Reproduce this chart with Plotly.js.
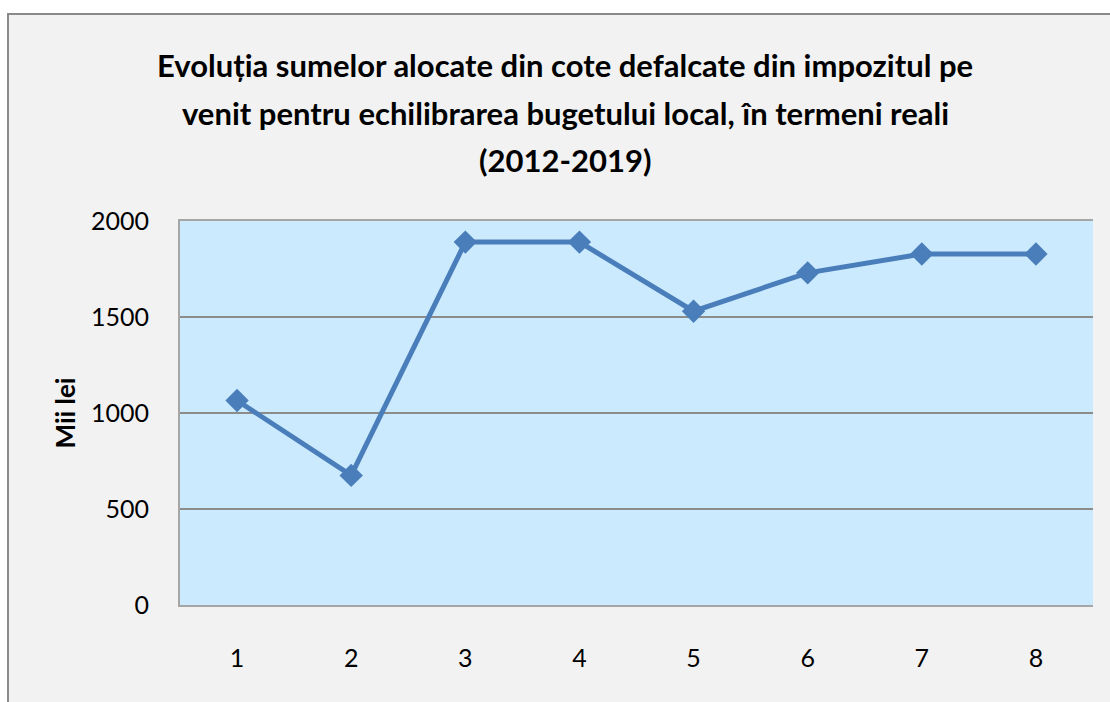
<!DOCTYPE html>
<html>
<head>
<meta charset="utf-8">
<script src="https://cdn.plot.ly/plotly-3.0.1.min.js"></script>
<style>
  html, body { margin: 0; padding: 0; background: #ffffff; width: 1110px; height: 702px; overflow: hidden; }
  #frame { position: absolute; left: 7px; top: 13px; width: 1101px; height: 687px;
           border-left: 2px solid #8a8a8a; border-top: 2px solid #8a8a8a; background: #f2f2f2; }
  #chart { width: 1101px; height: 687px; }
</style>
</head>
<body>
<div id="frame"><div id="chart"></div></div>
<script>
const categories = ["1", "2", "3", "4", "5", "6", "7", "8"];
const values = [1065, 675, 1890, 1890, 1530, 1730, 1828, 1828];
const yTicks = [0, 500, 1000, 1500, 2000];
const titleLines = [
  "Evoluția sumelor alocate din cote defalcate din impozitul pe",
  "venit pentru echilibrarea bugetului local, în termeni reali",
  "(2012-2019)"
];
const yTitle = "Mii lei";

const FONT = "Lato, 'Open Sans', sans-serif";

const trace = {
  type: "scatter",
  mode: "lines+markers",
  x: categories,
  y: values,
  line: { color: "#4a7ebb", width: 5 },
  marker: { symbol: "diamond", size: 18, color: "#4a7ebb" },
  hoverinfo: "x+y"
};

const titleY = [1.405, 1.280, 1.160];
const annotations = titleLines.map((t, i) => ({
  text: "<b>" + t + "</b>",
  xref: "paper", yref: "paper",
  x: 0.422, y: titleY[i],
  xanchor: "center", yanchor: "middle",
  showarrow: false,
  font: { family: FONT, size: 31, color: "#000000" }
}));

const layout = {
  width: 1101,
  height: 687,
  paper_bgcolor: "#f2f2f2",
  plot_bgcolor: "#cceafd",
  margin: { l: 171, r: 17, t: 206, b: 97 },
  showlegend: false,
  annotations: annotations,
  xaxis: {
    type: "category",
    range: [-0.5, 7.5],
    showgrid: false,
    zeroline: false,
    showline: true,
    mirror: true,
    linecolor: "#a6a6a6",
    linewidth: 2,
    ticks: "",
    ticklabelstandoff: 30,
    tickfont: { family: FONT, size: 25, color: "#000000" },
    fixedrange: true
  },
  yaxis: {
    range: [0, 2000],
    tickvals: yTicks,
    ticktext: yTicks.map(String),
    showgrid: true,
    gridcolor: "#8c8c8c",
    gridwidth: 1.5,
    zeroline: false,
    showline: true,
    linecolor: "#a6a6a6",
    linewidth: 2,
    ticks: "",
    ticklabelstandoff: 24,
    tickfont: { family: FONT, size: 25, color: "#000000" },
    title: { text: "<b>" + yTitle + "</b>", font: { family: FONT, size: 26, color: "#000000" }, standoff: 8 },
    fixedrange: true
  }
};

Plotly.newPlot("chart", [trace], layout, { displayModeBar: false });
</script>
</body>
</html>
